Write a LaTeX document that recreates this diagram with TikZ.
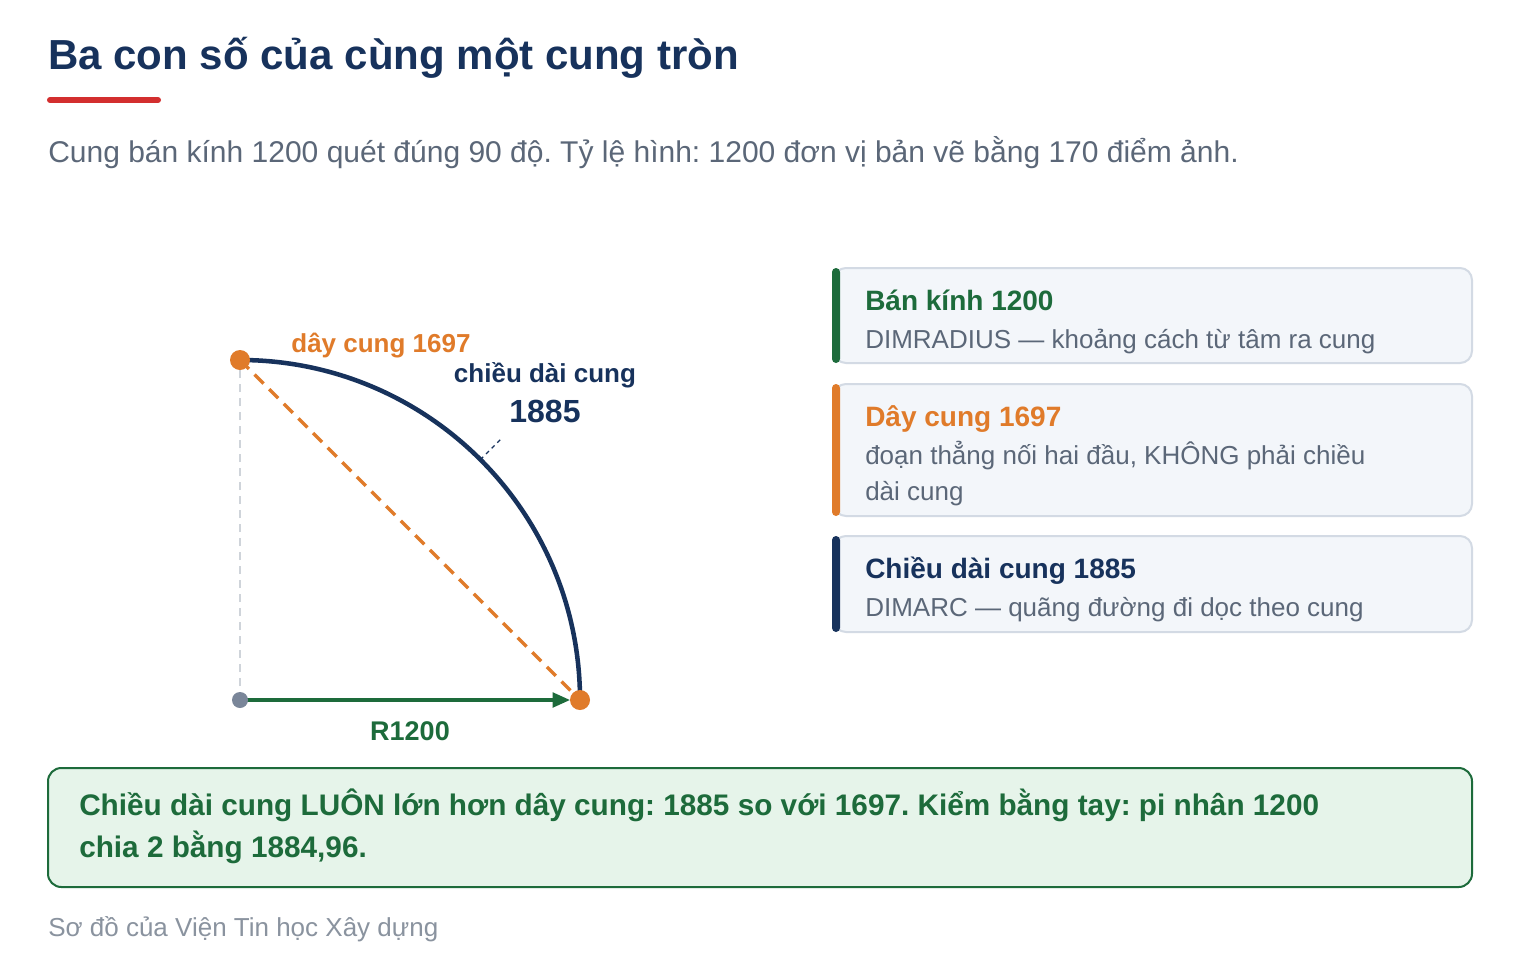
\documentclass[tikz,border=0pt]{standalone}
\usepackage{fontspec}
\setmainfont{Liberation Sans}
\usetikzlibrary{positioning}
\usetikzlibrary{arrows.meta}
\frenchspacing

\begin{document}
\begin{tikzpicture}[x=0.75pt,y=-0.75pt]

            % COLORS
            \definecolor{navycolor}{HTML}{17325C}
            \definecolor{greencolor}{HTML}{1D6B3B}
            \definecolor{orangecolor}{HTML}{E07B2A}
            \definecolor{redcolor}{HTML}{D32F2F}
            \definecolor{subcolor}{HTML}{5B6778}
            \definecolor{footcolor}{HTML}{8A939F}
            \definecolor{boxfill}{HTML}{F3F6FA}
            \definecolor{boxborder}{HTML}{D3DAE4}
            \definecolor{notefill}{HTML}{E6F4EA}
            \definecolor{centercolor}{HTML}{7A8699}
            \definecolor{guidecolor}{HTML}{CFD4DA}

            % DEF STYLES
            \tikzstyle{textstyle} = [anchor=base west, inner sep=0pt, align=left]
            \tikzstyle{titlestyle} = [textstyle, text=navycolor, font=\bfseries\fontsize{31.5}{38}\selectfont]
            \tikzstyle{substyle} = [textstyle, text=subcolor, font=\fontsize{22.5}{27}\selectfont]
            \tikzstyle{headstyle} = [textstyle, font=\bfseries\fontsize{21}{25}\selectfont]
            \tikzstyle{bodystyle} = [textstyle, text=subcolor, font=\fontsize{19.5}{27}\selectfont]
            \tikzstyle{notestyle} = [textstyle, text=greencolor, font=\bfseries\fontsize{22.3}{31.5}\selectfont]
            \tikzstyle{footstyle} = [textstyle, text=footcolor, font=\fontsize{19.5}{24}\selectfont]
            \tikzstyle{labelstyle} = [anchor=base, inner sep=0pt, font=\bfseries\fontsize{19.5}{24}\selectfont]
            \tikzstyle{cardstyle} = [fill=boxfill, draw=boxborder, line width=1.5pt, rounded corners=9pt]
            \tikzstyle{edgestyle_arc} = [line width=3.4pt, color=navycolor]
            \tikzstyle{edgestyle_chord} = [line width=2.6pt, color=orangecolor, dash pattern=on 9.5pt off 6pt]
            \tikzstyle{edgestyle_guide} = [line width=1.5pt, color=guidecolor, dash pattern=on 6pt off 4.5pt]
            \tikzstyle{edgestyle_radius} = [line width=2.3pt, color=greencolor, -{Triangle[length=13pt,width=11pt]}]
            \tikzstyle{edgestyle_leader} = [line width=1pt, color=navycolor, dash pattern=on 3pt off 3pt]
            \tikzstyle{vertexstyle_end} = [circle, inner sep=0pt, minimum size=15pt, fill=orangecolor]
            \tikzstyle{vertexstyle_center} = [circle, inner sep=0pt, minimum size=12pt, fill=centercolor]

            \fill[white] (0,0) rectangle (1520,964);
            \useasboundingbox (0,0) rectangle (1520,964);

            % HEADER
            \node[titlestyle] (title) at (48,69) {Ba con số của cùng một cung tròn};
            \draw[redcolor, line width=4.5pt, line cap=round] (50,100) -- (158,100);
            \node[substyle] (subtitle) at (48,162) {Cung bán kính 1200 quét đúng 90 độ. Tỷ lệ hình: 1200 đơn vị bản vẽ bằng 170 điểm ảnh.};

            % DEF COORDINATES
            \coordinate (v_center) at (240,700);
            \coordinate (v_top) at (240,360);
            \coordinate (v_end) at (580,700);
            \coordinate (v_mid) at (480.4,459.6);
            \coordinate (v_leader) at (502,438);

            % EDGES
            \draw[edgestyle_guide] (v_center) -- (v_top);
            \draw[edgestyle_chord] (v_top) -- (v_end);
            \draw[edgestyle_arc] (v_top) arc[start angle=90, end angle=0, radius=255pt];
            \draw[edgestyle_radius, shorten >=7.5pt] (v_center) -- (v_end);
            \draw[edgestyle_leader] (v_mid) -- (v_leader);

            % POINTS
            \foreach \i in {top,end} {
              \node at (v_\i) [vertexstyle_end] (p_\i) {};
            }
            \node at (v_center) [vertexstyle_center] (p_center) {};

            % LABELS
            \node[labelstyle, text=orangecolor] (chordlabel) at (381,352) {dây cung 1697};
            \node[labelstyle, text=navycolor] (arclabel) at (545,382) {chiều dài cung};
            \node[labelstyle, text=navycolor, font=\bfseries\fontsize{24}{28}\selectfont] (arcvalue) at (545,422) {1885};
            \node[labelstyle, text=greencolor, font=\bfseries\fontsize{20.25}{24}\selectfont] (radiuslabel) at (410,740) {R1200};

            % CARDS
            \foreach \n/\ya/\yb/\c in {1/268/363/greencolor, 2/384/516/orangecolor, 3/536/632/navycolor} {
              \draw[cardstyle] (834,\ya) rectangle (1472,\yb);
              \fill[\c, rounded corners=3pt] (832,\ya) rectangle (840,\yb);
            }
            \node[headstyle, text=greencolor] (head1) at (865,310) {Bán kính 1200};
            \node[bodystyle] (body1) at (865,348) {DIMRADIUS — khoảng cách từ tâm ra cung};
            \node[headstyle, text=orangecolor] (head2) at (865,426) {Dây cung 1697};
            \node[bodystyle] (body2) at (865,500) {đoạn thẳng nối hai đầu, KHÔNG phải chiều\\dài cung};
            \node[headstyle, text=navycolor] (head3) at (865,578) {Chiều dài cung 1885};
            \node[bodystyle] (body3) at (865,616) {DIMARC — quãng đường đi dọc theo cung};

            % NOTE
            \draw[fill=notefill, draw=greencolor, line width=1.5pt, rounded corners=10pt] (48,768) rectangle (1472,887);
            \node[notestyle] (note) at (79,857) {Chiều dài cung LUÔN lớn hơn dây cung: 1885 so với 1697. Kiểm bằng tay: pi nhân 1200\\chia 2 bằng 1884,96.};

            % FOOTER
            \node[footstyle] (footer) at (48,936) {Sơ đồ của Viện Tin học Xây dựng};

\end{tikzpicture}
\end{document}
